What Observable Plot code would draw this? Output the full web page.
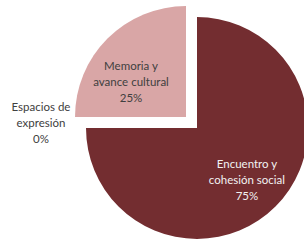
<!DOCTYPE html>
<html><head><meta charset="utf-8">
<script src="https://cdn.jsdelivr.net/npm/d3@7"></script>
<script src="https://cdn.jsdelivr.net/npm/@observablehq/plot@0.6"></script>
<style>body{margin:0;background:#fff}</style>
</head><body><div id="chart"></div>
<script>
const categories = ["Encuentro y\ncohesión social", "Memoria y\navance cultural", "Espacios de\nexpresión"];
const values = [75, 25, 0];
const sliceColors = ["#732D30", "#D9A6A6", "#8EB4E3"];
const textColors = ["#F2F2F2", "#404040", "#404040"];

const W = 304, H = 243, R = 111, CX = 197, CY = 128;
const rows = categories.map((c, i) => ({category: c, value: values[i], i}));
const arcs = d3.pie().sort(null).value(d => d.value)(rows);
const explode = [0, 0.14, 0];
arcs.forEach((a, i) => {
  const mid = (a.startAngle + a.endAngle) / 2;
  a.dx = explode[i] * Math.sin(mid);
  a.dy = explode[i] * Math.cos(mid);
});

// label placement (in pie-radius units)
const labels = arcs.map((a, i) => {
  const mid = (a.startAngle + a.endAngle) / 2;
  let lx, ly;
  if (i === 0) { lx = 0.63 * Math.sin(mid); ly = 0.64 * Math.cos(mid); }
  else if (i === 1) { lx = a.dx - 0.5; ly = a.dy + 0.33; }
  else { lx = -1.41; ly = 0.06; }
  return {x: lx, y: ly, text: `${a.data.category}\n${a.data.value}%`, fill: textColors[i]};
});

const slicesMark = (index, scales) => {
  const g = d3.create("svg:g");
  const arcGen = d3.arc().innerRadius(0);
  arcs.forEach((a, i) => {
    if (a.value <= 0) return;
    g.append("path")
      .attr("d", arcGen.outerRadius(R)({startAngle: a.startAngle, endAngle: a.endAngle}))
      .attr("transform", `translate(${scales.x(a.dx)},${scales.y(a.dy)})`)
      .attr("fill", sliceColors[i]);
  });
  return g.node();
};

const chart = Plot.plot({
  width: W, height: H,
  margin: 0,
  x: {domain: [-CX / R, (W - CX) / R], range: [0, W], axis: null},
  y: {domain: [-(H - CY) / R, CY / R], range: [H, 0], axis: null},
  style: {background: "#fff", fontFamily: "Lato, sans-serif"},
  marks: [
    slicesMark,
    Plot.text(labels, {x: "x", y: "y", text: "text", fill: "fill", fontSize: 11.5, lineHeight: 1.4, textAnchor: "middle"})
  ]
});
document.getElementById("chart").append(chart);
</script>
</body></html>
